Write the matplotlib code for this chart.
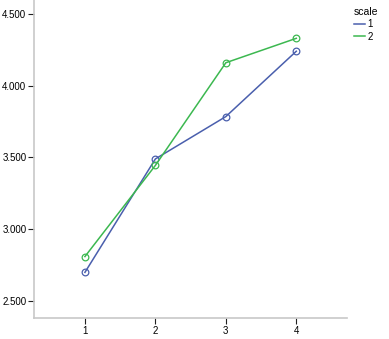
import matplotlib

matplotlib.use("Agg")
import matplotlib.pyplot as plt
from matplotlib.ticker import FormatStrFormatter

x_cats = [1, 2, 3, 4]
scale_1 = [2.70, 3.49, 3.785, 4.24]
scale_2 = [2.81, 3.445, 4.16, 4.33]
series = {"1": (scale_1, "#4a5fad"), "2": (scale_2, "#3cb850")}
y_ticks = [2.5, 3.0, 3.5, 4.0, 4.5]

plt.rcParams["font.family"] = ["Liberation Sans", "DejaVu Sans"]

fig = plt.figure(figsize=(3.89, 3.39), dpi=100)
ax = fig.add_axes([34 / 389, 21 / 339, 313 / 389, 318 / 339])

for name, (vals, color) in series.items():
    ax.plot(x_cats, vals, color=color, lw=1.1, marker="o", ms=4.8,
            mfc="none", mec=color, mew=0.9, label=name)

ax.set_xlim(0.277, 4.72)
ax.set_ylim(2.382, 4.597)
ax.set_xticks(x_cats)
ax.set_yticks(y_ticks)
ax.yaxis.set_major_formatter(FormatStrFormatter("%.3f"))
for side in ("top", "right"):
    ax.spines[side].set_visible(False)
for side in ("left", "bottom"):
    ax.spines[side].set_color("#c8c8c8")
    ax.spines[side].set_linewidth(1.2)
ax.tick_params(axis="both", labelsize=7, length=4, width=0.8,
               color="#202020", pad=1.5)

handles, labels = ax.get_legend_handles_labels()
leg = fig.legend(handles, labels, title="scale", loc="upper left",
                 bbox_to_anchor=(347 / 389, 1.0), frameon=False,
                 fontsize=7, title_fontsize=7.5, handlelength=1.2,
                 handletextpad=0.2, labelspacing=0.25, borderpad=0.2)
for h in leg.legend_handles:
    h.set_marker("")
leg._legend_box.align = "left"

fig.savefig("out.png", dpi=100)
